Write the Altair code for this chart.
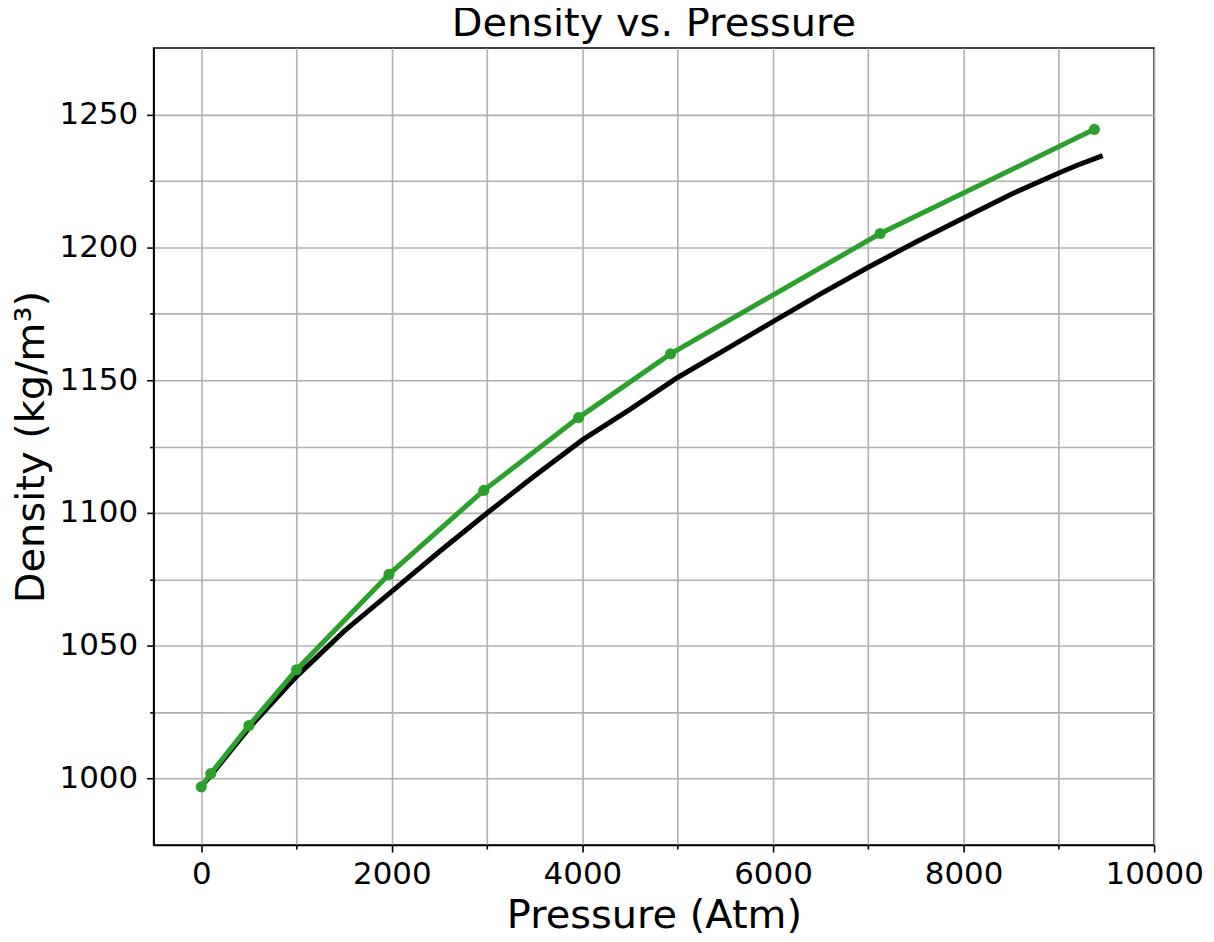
import altair as alt
import pandas as pd

# Measured (green, with markers)
green_p = [0, 100, 500, 1000, 1970, 2965, 3960, 4925, 7125, 9373]
green_d = [996.9, 1001.9, 1020.0, 1041.0, 1076.9, 1108.5, 1135.9, 1159.9, 1205.2, 1244.4]

# Reference curve (black)
black_p = [0, 100, 500, 1000, 1500, 2000, 2500, 3000, 3500, 4000, 4500, 5000,
           5500, 6000, 6500, 7000, 7500, 8000, 8500, 9000, 9200, 9460]
black_d = [997.0, 1001.2, 1019.0, 1038.5, 1055.5, 1070.5, 1085.5, 1100.0, 1114.0,
           1127.5, 1139.0, 1151.0, 1161.5, 1172.0, 1182.5, 1192.5, 1202.0, 1211.0,
           1220.0, 1228.0, 1231.0, 1234.5]

x_ticks = list(range(0, 10001, 1000))
y_ticks = list(range(1000, 1251, 25))

green_df = pd.DataFrame({"p": green_p, "d": green_d})
black_df = pd.DataFrame({"p": black_p, "d": black_d})

FONT = "DejaVu Sans"
GRID = "#b0b0b0"

xs = alt.Scale(domain=[-500, 10000], nice=False, zero=False)
ys = alt.Scale(domain=[975, 1275], nice=False, zero=False)

xaxis = alt.Axis(
    values=x_ticks,
    format="d",
    title="Pressure (Atm)",
    labelExpr="datum.value % 2000 === 0 ? datum.label : ''",
    tickSize={"condition": {"test": "datum.value % 2000 === 0", "value": 7}, "value": 4},
    labelPadding=8,
    titlePadding=6,
)
yaxis = alt.Axis(
    values=y_ticks,
    format="d",
    title="Density (kg/m³)",
    labelExpr="datum.value % 50 === 0 ? datum.label : ''",
    tickSize={"condition": {"test": "datum.value % 50 === 0", "value": 7}, "value": 4},
    labelPadding=9,
    titlePadding=8,
)

x_enc = alt.X("p:Q", scale=xs, axis=xaxis)
y_enc = alt.Y("d:Q", scale=ys, axis=yaxis)

black_line = alt.Chart(black_df).mark_line(color="black", strokeWidth=5).encode(
    x=x_enc, y=y_enc, order="p:Q"
)
green_line = alt.Chart(green_df).mark_line(color="#2ca02c", strokeWidth=5).encode(
    x=alt.X("p:Q", scale=xs), y=alt.Y("d:Q", scale=ys), order="p:Q"
)
green_pts = alt.Chart(green_df).mark_point(
    filled=True, color="#2ca02c", size=125, opacity=1, shape="circle"
).encode(x=alt.X("p:Q", scale=xs), y=alt.Y("d:Q", scale=ys))

chart = (
    alt.layer(black_line, green_line, green_pts)
    .properties(
        width=1003,
        height=799,
        title=alt.TitleParams(
            "Density vs. Pressure",
            fontSize=40,
            font=FONT,
            fontWeight="normal",
            color="black",
            offset=4,
        ),
        autosize=alt.AutoSizeParams(type="none"),
        padding={"left": 146, "top": 39, "right": 52, "bottom": 88},
    )
    .configure_view(stroke="black", strokeWidth=1.6)
    .configure_axis(
        labelFont=FONT,
        titleFont=FONT,
        labelFontSize=31,
        titleFontSize=40,
        titleFontWeight="normal",
        labelColor="black",
        titleColor="black",
        grid=True,
        gridColor=GRID,
        gridWidth=1.6,
        domainColor="black",
        domainWidth=1.6,
        tickColor="black",
        tickWidth=1.6,
        labelFlush=False,
        labelOverlap=False,
    )
)

chart.save("out.html", embed_options={"renderer": "svg", "actions": False})
